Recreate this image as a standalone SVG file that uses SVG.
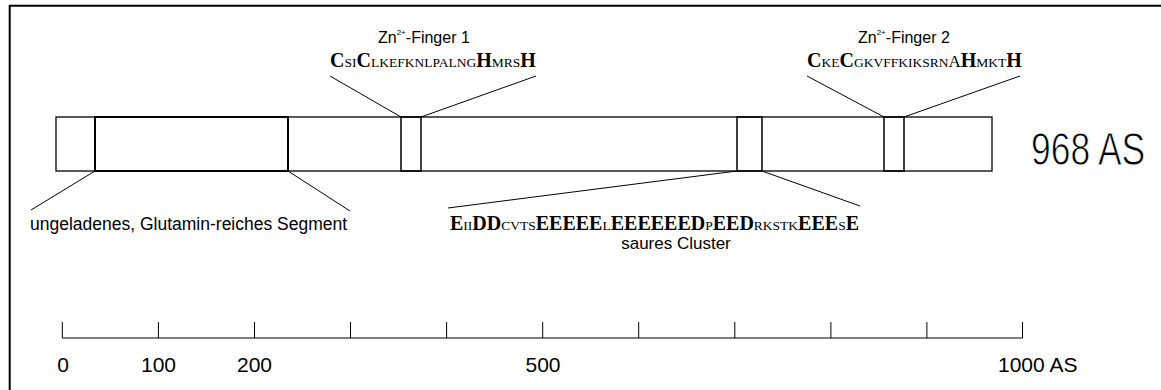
<svg xmlns="http://www.w3.org/2000/svg" width="1161" height="390" viewBox="0 0 1161 390">
<style>
.frame{fill:none;stroke:#000;stroke-width:2}
.bar{fill:#fff;stroke:#000;stroke-width:1.3}
.seg{fill:none;stroke:#000;stroke-width:2}
.box{fill:none;stroke:#000;stroke-width:1.5}
.ln{stroke:#000;stroke-width:1;fill:none}
.sans{font-family:"Liberation Sans",Arial,sans-serif;fill:#000}
.seq{font-family:"Liberation Serif","Times New Roman",serif;fill:#000}
.b{font-weight:bold;font-size:20px}
.s{font-size:13.5px}
.m{font-size:17px}
</style>
<rect width="1161" height="390" fill="#fff"/>
<path class="frame" d="M9.7,390 V5.7 H1161"/>
<g id="protein">
<rect class="bar" x="56" y="117" width="936" height="54"/>
</g>
<g id="glutamin-segment">
<rect class="seg" x="95" y="117" width="193" height="54"/>
<text class="sans" x="30" y="230" font-size="17.5">ungeladenes, Glutamin-reiches Segment</text>
</g>
<g id="zn-finger-1">
<rect class="box" x="401" y="117" width="20" height="54"/>
<text class="sans" x="378" y="43" font-size="16">Zn<tspan font-size="8" dy="-8">2+</tspan><tspan dy="8">-Finger 1</tspan></text>
<text class="seq" x="330" y="67"><tspan class="b">C</tspan><tspan class="s">SI</tspan><tspan class="b">C</tspan><tspan class="s">LKEFKNLPALNG</tspan><tspan class="b">H</tspan><tspan class="s">MRS</tspan><tspan class="b">H</tspan></text>
</g>
<g id="acidic-cluster">
<rect class="box" x="737" y="117" width="25" height="54"/>
<text class="seq" x="450" y="230"><tspan class="b">E</tspan><tspan class="s">II</tspan><tspan class="b">DD</tspan><tspan class="s">CVTS</tspan><tspan class="b">EEEEE</tspan><tspan class="s">L</tspan><tspan class="b">EEEEEED</tspan><tspan class="s">P</tspan><tspan class="b">EED</tspan><tspan class="s">RKSTK</tspan><tspan class="b">EEE</tspan><tspan class="s">S</tspan><tspan class="b">E</tspan></text>
<text class="sans" x="676" y="249" font-size="17" text-anchor="middle">saures Cluster</text>
</g>
<g id="zn-finger-2">
<rect class="box" x="884" y="117" width="20" height="54"/>
<text class="sans" x="858" y="43" font-size="16">Zn<tspan font-size="8" dy="-8">2+</tspan><tspan dy="8">-Finger 2</tspan></text>
<text class="seq" x="807" y="67"><tspan class="b">C</tspan><tspan class="s">KE</tspan><tspan class="b">C</tspan><tspan class="s">GKVFFKIKSRN</tspan><tspan class="m">A</tspan><tspan class="b">H</tspan><tspan class="s">MKT</tspan><tspan class="b">H</tspan></text>
</g>
<g id="length-label">
<text class="sans" transform="translate(1031,165) scale(0.77,1)" x="0" y="0" font-size="46" stroke="#fff" stroke-width="0.9">968 AS</text>
</g>
<g id="connectors">
<line class="ln" x1="95" y1="171" x2="31" y2="210"/>
<line class="ln" x1="288" y1="171" x2="350" y2="211"/>
<line class="ln" x1="401" y1="117" x2="330" y2="76"/>
<line class="ln" x1="421" y1="117" x2="536" y2="76"/>
<line class="ln" x1="737" y1="171" x2="448" y2="208"/>
<line class="ln" x1="762" y1="171" x2="860" y2="206"/>
<line class="ln" x1="884" y1="117" x2="807" y2="76"/>
<line class="ln" x1="904" y1="117" x2="1020" y2="76"/>
</g>
<g id="scale">
<path class="ln" d="M62.3,338 H1022.5 M62.3,322 V338 M158.4,322 V338 M254.5,322 V338 M350.5,322 V338 M446.6,322 V338 M542.7,322 V338 M638.7,322 V338 M734.8,322 V338 M830.9,322 V338 M926.9,322 V338 M1022.5,322 V338"/>
<g class="sans" font-size="21" text-anchor="middle">
<text x="63" y="372">0</text>
<text x="158.5" y="372">100</text>
<text x="254.5" y="372">200</text>
<text x="543" y="372">500</text>
</g>
<text class="sans" x="998" y="372" font-size="21">1000 AS</text>
</g>
</svg>
